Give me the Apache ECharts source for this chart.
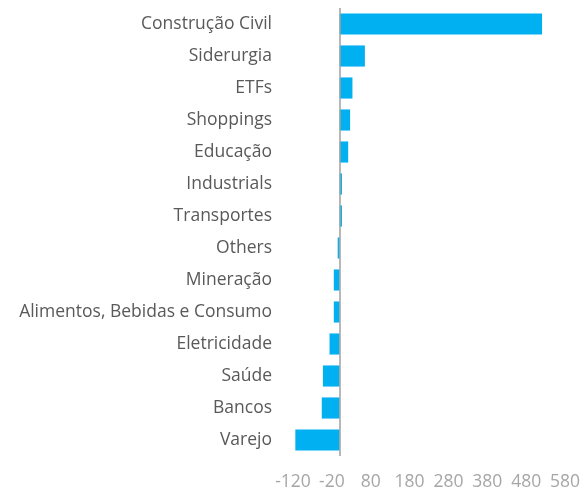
<!DOCTYPE html>
<html><head><meta charset="utf-8">
<script src="https://cdn.jsdelivr.net/npm/echarts@6/dist/echarts.min.js"></script>
<style>html,body{margin:0;padding:0;background:#fff}#c{width:584px;height:491px}</style>
</head><body><div id="c"></div>
<script>
const categories = ["Construção Civil","Siderurgia","ETFs","Shoppings","Educação","Industrials","Transportes","Others","Mineração","Alimentos, Bebidas e Consumo","Eletricidade","Saúde","Bancos","Varejo"];
const values = [521, 65, 33, 27, 22, 6, 6, -5, -15, -15, -26, -43, -46, -114];
const axisMin = -120, axisMax = 580, axisStep = 100;

const chart = echarts.init(document.getElementById('c'), null, {renderer:'canvas'});
chart.setOption({
  animation:false,
  textStyle:{fontFamily:'Open Sans'},
  grid:{left:293, right:19, top:8, bottom:35, containLabel:false},
  xAxis:{type:'value', min:axisMin, max:axisMax, interval:axisStep,
    axisLine:{show:false}, axisTick:{show:false}, splitLine:{show:false},
    axisLabel:{color:'#a6a6a6', fontSize:17.5, margin:17, fontFamily:'Open Sans'}},
  yAxis:{type:'category', data:categories, inverse:true,
    axisLine:{show:false, onZero:false}, axisTick:{show:false},
    axisLabel:{color:'#595959', fontSize:17.5, margin:21, fontFamily:'Open Sans'}},
  series:[{type:'bar', data:values, barWidth:'66%', itemStyle:{color:'#00B0F0'},
    markLine:{silent:true, symbol:'none', label:{show:false},
      lineStyle:{color:'#a0a0a0', type:'solid', width:1.5},
      data:[{xAxis:0}]}}]
});
</script></body></html>
